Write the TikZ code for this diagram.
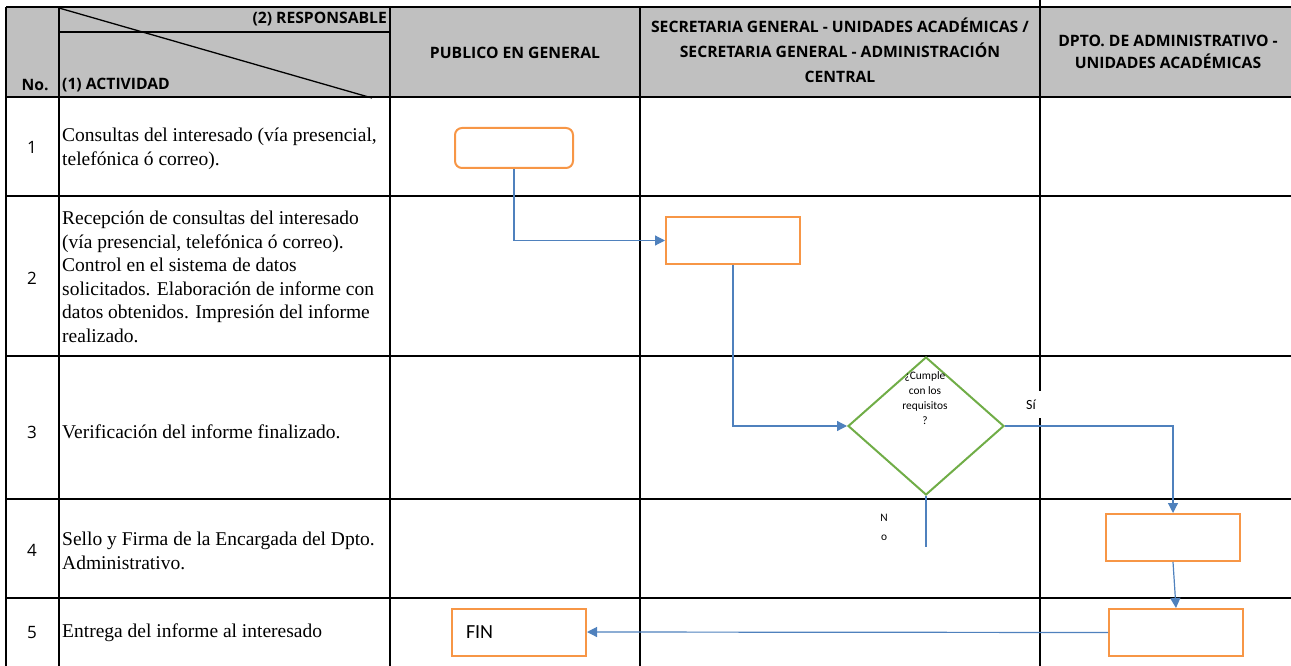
\documentclass[tikz,border=0pt]{standalone}
\usepackage{fontspec}
\setmainfont{Liberation Serif}
\newfontfamily\headfont{Open Sans}
\newfontfamily\labelfont{Carlito}
\usetikzlibrary{arrows.meta,shapes.geometric}
\definecolor{headgray}{HTML}{C0C0C0}
\definecolor{boxorange}{HTML}{F79646}
\definecolor{flowblue}{HTML}{4F81BD}
\definecolor{decgreen}{HTML}{70AD47}
\begin{document}
\begin{tikzpicture}[x=1pt,y=-1pt,
  grid/.style={line width=2pt, black},
  headtext/.style={font=\headfont\bfseries\fontsize{15.7}{25}\selectfont, align=center, inner sep=0pt},
  numtext/.style={font=\headfont\fontsize{17}{20}\selectfont, inner sep=0pt},
  acttext/.style={font=\fontsize{19.5}{23.5}\selectfont, align=left, anchor=west, inner sep=0pt},
  procbox/.style={draw=boxorange, line width=2pt, minimum width=134pt, minimum height=47pt, inner sep=0pt},
  startbox/.style={procbox, rounded corners=7pt, minimum width=118pt, minimum height=40pt},
  decision/.style={diamond, draw=decgreen, line width=2pt, minimum width=156pt, minimum height=138pt, inner sep=0pt},
  flow/.style={draw=flowblue, line width=1.2pt, -{Triangle[length=10pt,width=10pt]}},
  tag/.style={font=\labelfont\fontsize{11.4}{15}\selectfont, inner sep=0pt, align=center}
]
\useasboundingbox (0,0) rectangle (1291,666);

% header band
\fill[headgray] (6,7) rectangle (1291,97);

% table rules
\foreach \yy in {7,97,196,356,499,598}
  \draw[grid] (6,\yy) -- (1291,\yy);
\draw[grid] (59,32) -- (390,32);
\foreach \xx in {6,59,390,640}
  \draw[grid] (\xx,7) -- (\xx,666);
\draw[grid] (1040,0) -- (1040,666);
\draw[line width=1.3pt] (59,8) -- (372,98);

% header texts
\node[headtext, anchor=east] (hResp) at (387,19) {(2) RESPONSABLE};
\node[headtext, anchor=west] (hAct) at (62,85) {(1) ACTIVIDAD};
\node[headtext] (hNo) at (35,85) {No.};
\node[headtext] (hPub) at (515,53) {PUBLICO EN GENERAL};
\node[headtext] (hSec) at (840,50) {SECRETARIA GENERAL - UNIDADES ACADÉMICAS /\\SECRETARIA GENERAL - ADMINISTRACIÓN\\CENTRAL};
\node[headtext, font=\headfont\bfseries\fontsize{15.7}{22}\selectfont] (hDpt) at (1168,52) {DPTO. DE ADMINISTRATIVO -\\UNIDADES ACADÉMICAS};

% row numbers
\node[numtext] (n1) at (32,147) {1};
\node[numtext] (n2) at (32,278) {2};
\node[numtext] (n3) at (32,432) {3};
\node[numtext] (n4) at (32,550) {4};
\node[numtext] (n5) at (32,633) {5};

% activities
\node[acttext] (a1) at (62,149) {Consultas del interesado (vía presencial,\\telefónica ó correo).};
\node[acttext] (a2) at (62,277) {Recepción de consultas del interesado\\(vía presencial, telefónica ó correo).\\Control en el sistema de datos\\solicitados. Elaboración de informe con\\datos obtenidos. Impresión del informe\\realizado.};
\node[acttext] (a3) at (62,432) {Verificación del informe finalizado.};
\node[acttext] (a4) at (62,551) {Sello y Firma de la Encargada del Dpto.\\Administrativo.};
\node[acttext] (a5) at (62,633) {Entrega del informe al interesado};

% "Si" label on its white text box
\node[fill=white, inner sep=0pt, anchor=north west, minimum width=60pt, minimum height=27pt,
      text width=60pt, align=left, font=\labelfont\fontsize{14}{16}\selectfont] (si) at (1012,391) {\hspace*{14pt}Sí};

% flow shapes
\node[startbox] (s1) at (514,148) {};
\node[procbox] (p2) at (733,240.5) {};
\node[decision] (d3) at (926,426) {};
\node[procbox] (p4) at (1173,537.5) {};
\node[procbox] (p5) at (1176,632.5) {};
\node[procbox, inner xsep=14pt, text width=106pt, align=left, font=\labelfont\fontsize{20}{24}\selectfont] (fin) at (519,632) {FIN};

\node[tag] (q) at (925,398) {¿Cumple\\con los\\requisitos\\?};
\node[tag, font=\labelfont\fontsize{11.4}{19}\selectfont] (no) at (884,527.5) {N\\o};

% connectors
\draw[flow] (s1.south) |- (p2.west);
\draw[flow] (p2.south) |- (d3.west);
\draw[flow] (d3.east) -| (p4.north);
\draw[flow] (p4.south) -- (p5.north);
\draw[flow] (p5.west) -- (fin.east);
\coordinate (noEnd) at (926,547);
\draw[flow, -] (d3.south) -- (noEnd);
\end{tikzpicture}
\end{document}
